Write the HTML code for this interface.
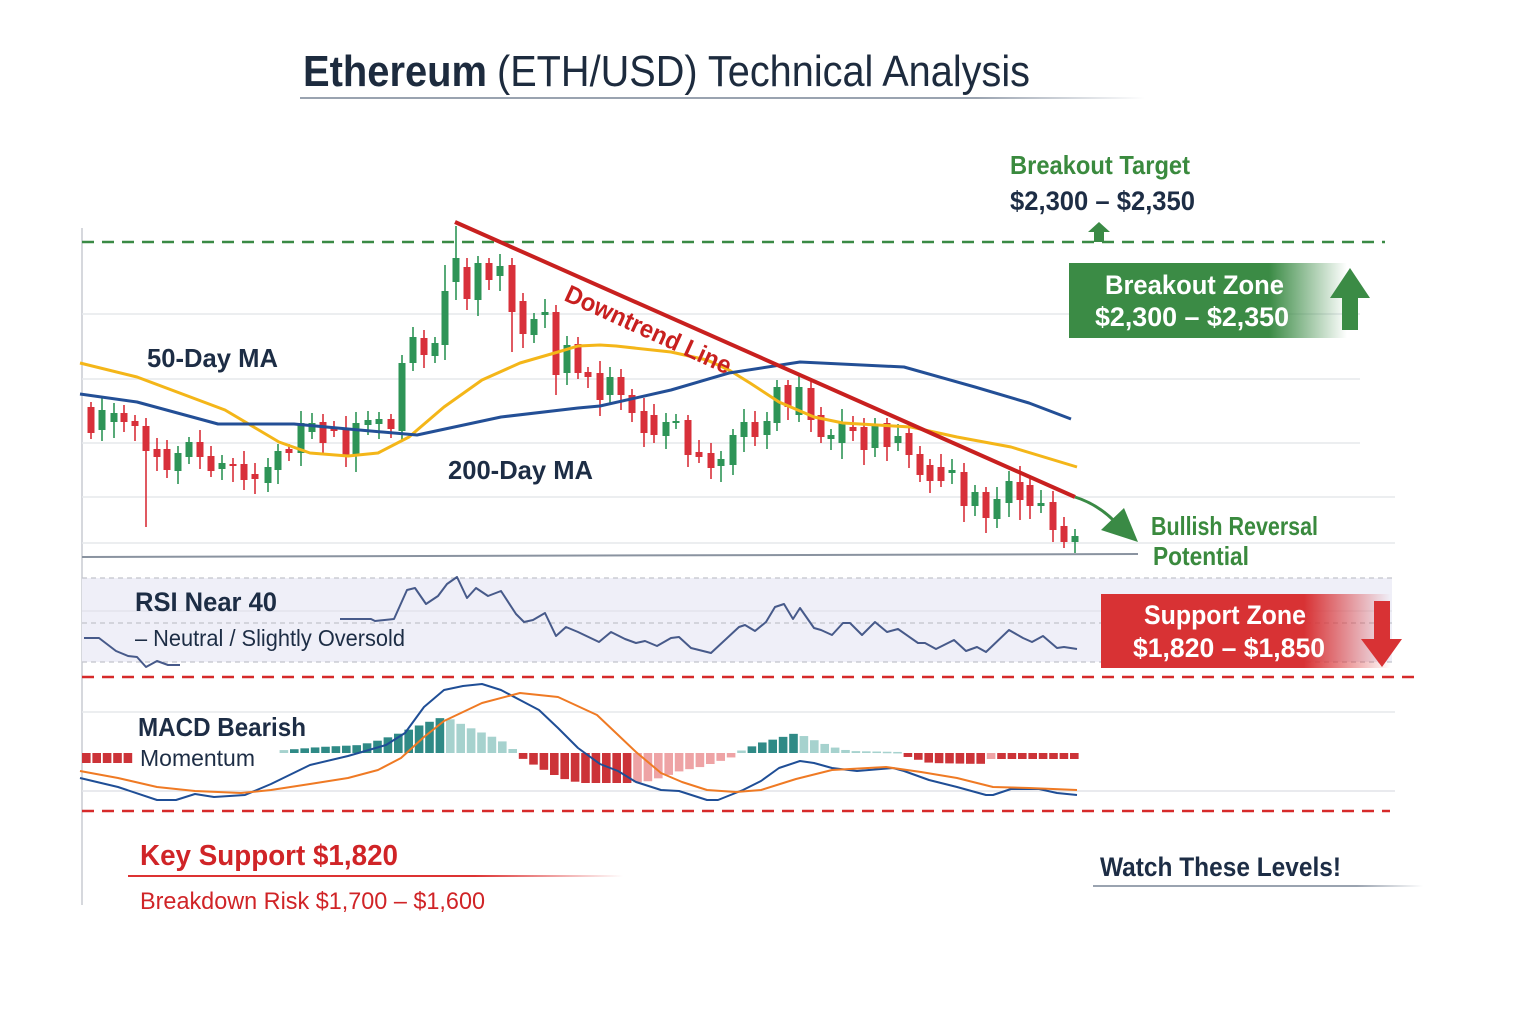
<!DOCTYPE html>
<html><head><meta charset="utf-8"><style>
html,body{margin:0;padding:0;background:#fff;}
svg{display:block;}
text{font-family:"Liberation Sans",sans-serif;}
</style></head><body>
<svg id="s" width="1536" height="1024" viewBox="0 0 1536 1024" xmlns="http://www.w3.org/2000/svg">
<defs>
<linearGradient id="gfade" x1="0" x2="1"><stop offset="0" stop-color="#3b8b45"/><stop offset="0.72" stop-color="#3b8b45"/><stop offset="1" stop-color="#3b8b45" stop-opacity="0"/></linearGradient>
<linearGradient id="rfade" x1="0" x2="1"><stop offset="0" stop-color="#d83234"/><stop offset="0.7" stop-color="#d83234"/><stop offset="1" stop-color="#d83234" stop-opacity="0"/></linearGradient>
<linearGradient id="lfade" x1="0" x2="1"><stop offset="0" stop-color="#9aa3b0"/><stop offset="0.8" stop-color="#9aa3b0"/><stop offset="1" stop-color="#9aa3b0" stop-opacity="0"/></linearGradient>
<linearGradient id="redline" x1="0" x2="1"><stop offset="0" stop-color="#d33"/><stop offset="0.7" stop-color="#d33"/><stop offset="1" stop-color="#d33" stop-opacity="0"/></linearGradient>
</defs>
<rect width="1536" height="1024" fill="#fff"/>
<!-- title -->
<text x="303" y="86" font-size="44" font-weight="bold" fill="#1d2b3e" textLength="184" lengthAdjust="spacingAndGlyphs">Ethereum</text>
<text x="497" y="86" font-size="44" fill="#1d2b3e" textLength="533" lengthAdjust="spacingAndGlyphs">(ETH/USD) Technical Analysis</text>
<rect x="300" y="97" width="845" height="2" fill="url(#lfade)"/>
<!-- axis -->
<line x1="82" y1="228" x2="82" y2="905" stroke="#c8ccd2" stroke-width="1.5"/>
<g stroke="#e6e8ec" stroke-width="1.5">
<line x1="82" y1="314" x2="1360" y2="314"/><line x1="82" y1="379" x2="1360" y2="379"/>
<line x1="82" y1="443" x2="1360" y2="443"/><line x1="82" y1="497" x2="1395" y2="497"/>
<line x1="82" y1="543" x2="1395" y2="543"/>
</g>
<line x1="82" y1="242" x2="1385" y2="242" stroke="#3a8a45" stroke-width="2.5" stroke-dasharray="12 8"/>
<line x1="82" y1="557" x2="1138" y2="554" stroke="#8a93a0" stroke-width="2"/>
<!-- RSI band -->
<rect x="82" y="578" width="1310" height="84" fill="#efeff8"/>
<g stroke="#c2c4cc" stroke-width="1.2" stroke-dasharray="5 4">
<line x1="82" y1="578" x2="1392" y2="578"/><line x1="82" y1="623" x2="1392" y2="623"/><line x1="82" y1="662" x2="1392" y2="662"/>
</g>
<line x1="82" y1="611" x2="1392" y2="611" stroke="#dcdde6" stroke-width="1"/>
<line x1="82" y1="677" x2="1420" y2="677" stroke="#d62a2a" stroke-width="2.5" stroke-dasharray="12 8"/>
<line x1="82" y1="811" x2="1390" y2="811" stroke="#d62a2a" stroke-width="2.5" stroke-dasharray="12 8"/>
<line x1="82" y1="712" x2="1395" y2="712" stroke="#e6e8ec" stroke-width="1.5"/>
<line x1="82" y1="791" x2="1395" y2="791" stroke="#e2e4e8" stroke-width="1.5"/>
<g id="hist"></g>
<g id="candles"></g>
<!-- MAs -->
<polyline fill="none" stroke="#f4b619" stroke-width="3" stroke-linejoin="round" points="80,363 137,377 225,410 279,442 310,453 348,456 378,453 409,437 444,407 482,380 520,363 558,352 578,346 600,345 616,346 671,352 707,360 729,370 750,383 779,402 814,417 843,423 911,427 957,437 1011,447 1077,467"/>
<polyline fill="none" stroke="#234f96" stroke-width="3" stroke-linejoin="round" points="80,394 137,402 218,424 294,424 348,429 417,435 501,417 578,408 600,406 671,390 729,373 800,362 904,367 975,387 1029,403 1071,419"/>
<!-- downtrend -->
<line x1="455" y1="222" x2="1075" y2="497" stroke="#c8201f" stroke-width="4"/>
<path d="M1075,497 Q1100,505 1118,525" fill="none" stroke="#3a8a45" stroke-width="3"/>
<polygon points="1138,542 1101,530 1124,508" fill="#3a8a45"/>
<text x="0" y="0" font-size="25" font-weight="bold" fill="#c8201f" transform="translate(563,300) rotate(24.5)" textLength="180" lengthAdjust="spacingAndGlyphs">Downtrend Line</text>
<!-- RSI -->
<g fill="none" stroke="#475a8a" stroke-width="2" stroke-linejoin="round">
<polyline points="84,638 99,638 116,651 128,656 137,657 146,667 157,661 168,665 180,665"/>
<polyline points="340,619 371,619 375,621 394,619 407,590 415,588 426,604 438,596 447,584 457,577 467,598 476,588 488,596 501,591 516,614 524,622 533,620 545,613 556,636 566,627 578,632 599,642 611,632 625,639 636,643 645,641 657,646 671,638 679,637 691,648 711,653 739,627 745,625 755,631 766,622 775,607 784,604 793,619 800,608 814,628 821,630 832,635 843,623 850,623 862,635 875,622 887,632 898,629 918,643 925,643 936,649 954,640 966,651 977,647 986,652 1009,630 1023,638 1032,642 1043,636 1057,648 1064,647 1077,649"/>
</g>
<!-- MACD lines -->
<polyline fill="none" stroke="#1f4e96" stroke-width="2" stroke-linejoin="round" points="80,778 118,787 157,800 176,800 195,794 214,797 245,795 271,784 310,765 348,756 386,745 405,733 424,707 444,690 463,686 482,684 501,690 520,700 539,710 558,728 578,748 600,764 618,771 636,782 661,790 679,791 707,800 718,800 743,790 761,781 779,768 800,761 814,763 832,768 857,771 893,768 904,771 929,780 957,787 986,795 993,795 1011,789 1039,789 1057,793 1077,795"/>
<polyline fill="none" stroke="#ef7a24" stroke-width="2" stroke-linejoin="round" points="80,771 118,778 157,787 195,791 241,793 271,790 310,784 348,778 378,770 401,758 424,737 444,721 482,703 520,693 558,697 597,715 616,733 636,752 661,773 682,782 707,790 736,792 761,790 796,779 832,770 886,767 921,772 957,778 993,787 1029,788 1077,790"/>
<!-- labels -->
<g fill="#1d2d45" font-weight="bold">
<text x="147" y="367" font-size="26" textLength="131" lengthAdjust="spacingAndGlyphs">50-Day MA</text>
<text x="448" y="479" font-size="26" textLength="145" lengthAdjust="spacingAndGlyphs">200-Day MA</text>
<text x="135" y="611" font-size="27" textLength="142" lengthAdjust="spacingAndGlyphs">RSI Near 40</text>
<text x="135" y="646" font-size="23" font-weight="normal" textLength="270" lengthAdjust="spacingAndGlyphs">– Neutral / Slightly Oversold</text>
<text x="138" y="736" font-size="26" textLength="168" lengthAdjust="spacingAndGlyphs">MACD Bearish</text>
<text x="140" y="766" font-size="23" font-weight="normal" textLength="115" lengthAdjust="spacingAndGlyphs">Momentum</text>
<text x="1010" y="210" font-size="27" textLength="185" lengthAdjust="spacingAndGlyphs">$2,300 – $2,350</text>
<text x="1100" y="876" font-size="27" textLength="241" lengthAdjust="spacingAndGlyphs">Watch These Levels!</text>
</g>
<rect x="1093" y="885" width="330" height="2" fill="url(#lfade)"/>
<g fill="#3a8a3e" font-weight="bold">
<text x="1010" y="174" font-size="26" textLength="180" lengthAdjust="spacingAndGlyphs">Breakout Target</text>
<text x="1151" y="535" font-size="26" textLength="167" lengthAdjust="spacingAndGlyphs">Bullish Reversal</text>
<text x="1153" y="565" font-size="26" textLength="96" lengthAdjust="spacingAndGlyphs">Potential</text>
</g>
<polygon points="1099,222 1110,232 1104,232 1104,242 1094,242 1094,232 1088,232" fill="#3a8a45"/>
<!-- breakout box -->
<rect x="1069" y="263" width="278" height="75" fill="url(#gfade)"/>
<polygon points="1350,268 1370,298 1358,298 1358,330 1342,330 1342,298 1330,298" fill="#3b8b45"/>
<g fill="#fff" font-weight="bold" font-size="27">
<text x="1105" y="294" textLength="179" lengthAdjust="spacingAndGlyphs">Breakout Zone</text>
<text x="1095" y="326" textLength="194" lengthAdjust="spacingAndGlyphs">$2,300 – $2,350</text>
</g>
<!-- support box -->
<rect x="1101" y="594" width="290" height="74" fill="url(#rfade)"/>
<polygon points="1374,601 1390,601 1390,639 1402,639 1382,667 1361,639 1374,639" fill="#d83234"/>
<g fill="#fff" font-weight="bold" font-size="27">
<text x="1144" y="624" textLength="162" lengthAdjust="spacingAndGlyphs">Support Zone</text>
<text x="1133" y="657" textLength="192" lengthAdjust="spacingAndGlyphs">$1,820 – $1,850</text>
</g>
<!-- bottom left -->
<text x="140" y="865" font-size="29" font-weight="bold" fill="#d02427" textLength="258" lengthAdjust="spacingAndGlyphs">Key Support $1,820</text>
<rect x="128" y="875" width="495" height="2" fill="url(#redline)"/>
<text x="140" y="909" font-size="24" fill="#d02427" textLength="345" lengthAdjust="spacingAndGlyphs">Breakdown Risk $1,700 – $1,600</text>
</svg>
<script>
var NS="http://www.w3.org/2000/svg";
var C=[[91,407,433,'r'],[102,410,430,'g'],[114,413,422,'g'],[124,413,422,'r'],[135,421,426,'r'],[146,426,451,'r'],[157,449,457,'r'],[167,449,470,'r'],[178,453,471,'g'],[189,442,457,'g'],[200,442,457,'r'],[211,456,471,'r'],[222,463,469,'g'],[233,464,466,'r'],[244,464,480,'r'],[255,474,479,'r'],[268,467,483,'g'],[278,451,470,'g'],[289,449,453,'r'],[301,423,453,'g'],[312,423,432,'g'],[323,422,443,'r'],[334,427,431,'r'],[346,429,456,'r'],[356,423,456,'g'],[368,420,425,'g'],[379,419,424,'g'],[391,419,429,'r'],[402,363,431,'g'],[413,337,363,'g'],[424,338,355,'r'],[435,343,356,'g'],[445,291,345,'g'],[456,258,282,'g'],[467,267,299,'r'],[478,263,300,'g'],[489,263,280,'r'],[500,266,276,'g'],[512,265,312,'r'],[523,301,334,'r'],[534,319,335,'g'],[545,312,315,'g'],[556,312,375,'r'],[567,345,373,'g'],[578,344,373,'r'],[588,372,377,'r'],
[600,373,400,'r'],[610,377,395,'g'],[621,377,395,'r'],[632,395,413,'r'],[644,411,433,'r'],[654,415,435,'r'],[666,422,436,'g'],[676,421,422,'g'],[688,420,455,'r'],[699,452,457,'r'],[711,453,468,'r'],[721,459,466,'g'],[733,435,465,'g'],[744,422,437,'g'],[755,422,437,'r'],[767,421,435,'g'],[777,387,423,'g'],[788,385,407,'r'],[799,387,415,'g'],[811,388,420,'r'],[821,415,437,'r'],[831,435,439,'g'],[842,422,443,'g'],[853,427,431,'r'],[864,427,450,'r'],[875,425,448,'g'],[887,423,447,'r'],[898,436,443,'g'],[909,433,455,'r'],[920,454,475,'r'],[930,465,481,'r'],[941,467,481,'r'],[952,470,473,'g'],[964,472,506,'r'],[975,492,506,'g'],[986,492,518,'r'],[997,499,519,'g'],[1009,481,503,'g'],[1020,482,500,'r'],[1030,485,506,'r'],[1041,503,506,'g'],[1053,502,530,'r'],[1064,526,542,'r'],[1075,536,542,'g']];
var W={146:[418,527],456:[226,300],445:[265,360],402:[355,440],512:[258,352],556:[305,395],697:[415,488],1020:[466,520]};
var g=document.getElementById('candles');
C.forEach(function(c,i){
 var col=c[3]=='r'?'#d8303a':'#2e9457';
 var a=5+((i*7)%9), b=6+((i*5)%11);
 var t=c[1]-a, bt=c[2]+b;
 if(W[c[0]]){t=W[c[0]][0];bt=W[c[0]][1];}
 var l=document.createElementNS(NS,'line');
 l.setAttribute('x1',c[0]);l.setAttribute('x2',c[0]);l.setAttribute('y1',t);l.setAttribute('y2',bt);
 l.setAttribute('stroke',col);l.setAttribute('stroke-width','1.6');g.appendChild(l);
 var r=document.createElementNS(NS,'rect');
 r.setAttribute('x',c[0]-3.5);r.setAttribute('y',c[1]);r.setAttribute('width',7);r.setAttribute('height',Math.max(2,c[2]-c[1]));
 r.setAttribute('fill',col);g.appendChild(r);
});
var K=[[82,-10],[128,-10],[273,2],[320,6],[360,8],[380,13],[400,20],[420,28],[440,35],[447,35],[470,25],[490,17],[510,8],[516,-2],[530,-10],[560,-25],[580,-30],[630,-30],[650,-28],[680,-18],[700,-14],[730,-5],[740,2],[760,10],[786,17],[796,20],[816,12],[836,5],[850,2],[900,1],[904,-3],[930,-10],[980,-11],[990,-6],[1075,-6]];
function f(x){for(var i=0;i<K.length-1;i++){if(x>=K[i][0]&&x<=K[i+1][0]){var u=(x-K[i][0])/(K[i+1][0]-K[i][0]);return K[i][1]+u*(K[i+1][1]-K[i][1]);}}return 0;}
var h=document.getElementById('hist');var prev=0;
for(var x=82;x<=1072;x+=10.4){
 if(x>132&&x<270)continue;
 var v=f(x+4);var m=Math.abs(v)>=Math.abs(prev);
 var col=v>=0?(m?'#2f8a86':'#a6d2ce'):(m?'#cc3338':'#eea3a5');
 prev=v;
 var r=document.createElementNS(NS,'rect');
 r.setAttribute('x',x);r.setAttribute('width',8.6);
 r.setAttribute('y',v>=0?753-v:753);r.setAttribute('height',Math.max(1.5,Math.abs(v)));
 r.setAttribute('fill',col);h.appendChild(r);
}
</script>
</body></html>
